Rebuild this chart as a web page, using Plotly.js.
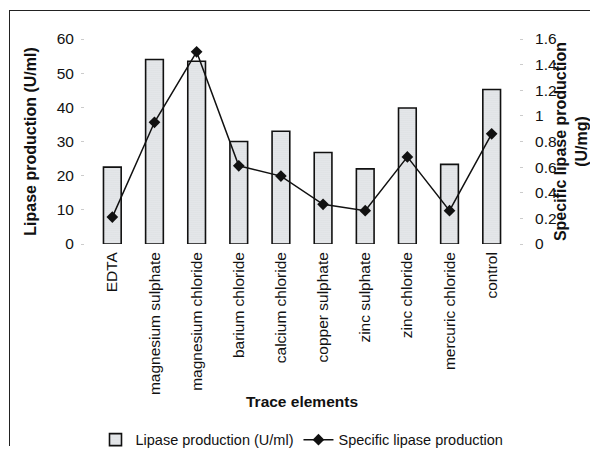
<!DOCTYPE html>
<html>
<head>
<meta charset="utf-8">
<script src="https://cdn.plot.ly/plotly-3.0.1.min.js"></script>
<style>
  html, body { margin: 0; padding: 0; background: #fff; }
  #wrap { position: relative; width: 590px; height: 451px; }
  #chart { width: 590px; height: 451px; }
  #frame { position: absolute; left: 9px; top: 10px; width: 600px; height: 435px;
           border-top: 1.5px solid #222; border-left: 1.5px solid #222; pointer-events: none; }
</style>
</head>
<body>
<div id="wrap">
  <div id="chart"></div>
  <div id="frame"></div>
</div>
<script>
const categories = ["EDTA", "magnesium sulphate", "magnesium chloride", "barium chloride",
  "calcium chloride", "copper sulphate", "zinc sulphate", "zinc chloride",
  "mercuric chloride", "control"];
const lipaseProduction = [22.5, 54, 53.5, 30, 33, 26.8, 22, 39.8, 23.3, 45.2];
const specificProduction = [0.21, 0.95, 1.50, 0.61, 0.53, 0.31, 0.26, 0.68, 0.26, 0.86];

const font = "Arial, 'Liberation Sans', sans-serif";

const traces = [
  {
    type: "bar",
    x: categories,
    y: lipaseProduction,
    name: "Lipase production (U/ml)",
    width: 0.42,
    marker: {
      color: "#e6e8ea",
      line: { color: "#111", width: 1.6 },
      pattern: { shape: ".", fgcolor: "#c4c8cc", bgcolor: "#eceef0", size: 2, solidity: 0.3 }
    },
    yaxis: "y"
  },
  {
    type: "scatter",
    mode: "lines+markers",
    x: categories,
    y: specificProduction,
    name: "Specific lipase production",
    line: { color: "#111", width: 1.5 },
    marker: { symbol: "diamond", size: 9, color: "#111" },
    yaxis: "y2"
  }
];

const layout = {
  width: 590,
  height: 451,
  margin: { l: 85, r: 71, t: 39, b: 207, autoexpand: false },
  paper_bgcolor: "#fff",
  plot_bgcolor: "#fff",
  font: { family: font, color: "#111", size: 15.5 },
  showlegend: true,
  legend: {
    orientation: "h", x: 0.5, xanchor: "center",
    yref: "container", y: 0.025, yanchor: "middle",
    font: { size: 14.5, family: font }, traceorder: "normal", itemwidth: 30
  },
  xaxis: {
    type: "category",
    automargin: false,
    tickangle: -90,
    showgrid: false,
    zeroline: false,
    showline: false,
    ticks: "",
    ticklabelstandoff: 4,
    tickfont: { size: 15.5 },
    title: { text: "<b>Trace elements</b>", font: { size: 15.5 }, standoff: 2 }
  },
  yaxis: {
    range: [0, 60],
    dtick: 10,
    automargin: false,
    showgrid: false,
    zeroline: false,
    showline: false,
    ticks: "outside",
    ticklen: 3,
    tickcolor: "#ccc",
    ticklabelstandoff: 4,
    tickfont: { size: 15.5 },
    title: { text: "<b>Lipase production (U/ml)</b>", font: { size: 16 }, standoff: 16 }
  },
  yaxis2: {
    range: [0, 1.6],
    dtick: 0.2,
    overlaying: "y",
    side: "right",
    automargin: false,
    showgrid: false,
    zeroline: false,
    showline: false,
    ticks: "outside",
    ticklen: 3,
    tickcolor: "#ccc",
    ticklabelstandoff: 9,
    tickfont: { size: 15.5 },
    title: { text: "<b>Specific lipase production<br>(U/mg)</b>", font: { size: 16 }, standoff: 10 }
  }
};

Plotly.newPlot("chart", traces, layout, { displayModeBar: false, staticPlot: true });
</script>
</body>
</html>
